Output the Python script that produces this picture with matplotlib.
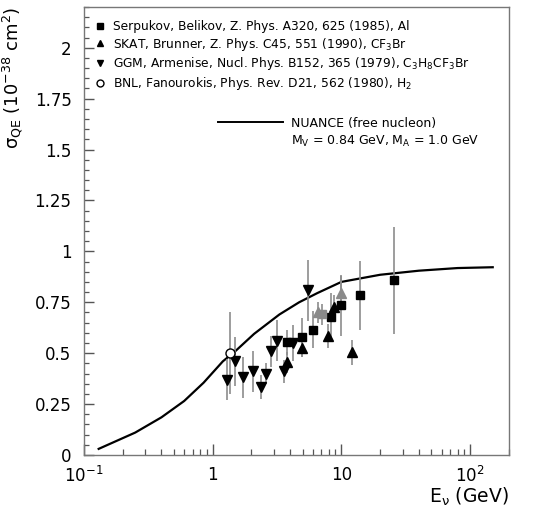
import numpy as np
import matplotlib.pyplot as plt
from matplotlib.lines import Line2D
from matplotlib.ticker import MultipleLocator, FormatStrFormatter, FixedFormatter, FixedLocator, NullFormatter

plt.rcParams['font.family'] = 'DejaVu Sans'
plt.rcParams['mathtext.default'] = 'regular'

# NUANCE free-nucleon prediction
nuance_E = [0.13, 0.25, 0.4, 0.6, 0.85, 1.2, 1.5, 2.1, 3.3, 4.7, 6.5, 10, 20, 40, 80, 150]
nuance_sigma = [0.03, 0.11, 0.185, 0.265, 0.355, 0.46, 0.51, 0.595, 0.69, 0.75,
                0.795, 0.85, 0.885, 0.905, 0.918, 0.922]

# Serpukov (Al)
serp_E = [3.8, 4.95, 6.05, 7.08, 8.3, 10.0, 14.0, 25.6]
serp_sigma = [0.553, 0.578, 0.616, 0.69, 0.676, 0.735, 0.785, 0.857]
serp_err = [0.063, 0.095, 0.09, 0.05, 0.12, 0.15, 0.17, 0.265]
serp_faint = [0, 0, 0, 1, 0, 0, 0, 0]

# SKAT (CF3Br)
skat_E = [3.77, 4.95, 6.55, 7.83, 8.83, 10.0, 12.2]
skat_sigma = [0.455, 0.525, 0.70, 0.583, 0.728, 0.797, 0.504]
skat_err = [0.05, 0.045, 0.05, 0.06, 0.06, 0.08, 0.06]
skat_faint = [0, 0, 1, 0, 0, 1, 0]

# GGM (C3H8CF3Br)
ggm_E = [1.29, 1.50, 1.72, 2.05, 2.39, 2.61, 2.82, 3.16, 3.61, 4.2, 5.55]
ggm_sigma = [0.369, 0.46, 0.381, 0.41, 0.333, 0.40, 0.509, 0.562, 0.41, 0.55, 0.808]
ggm_err = [0.1, 0.12, 0.1, 0.1, 0.06, 0.05, 0.075, 0.1, 0.057, 0.09, 0.15]
ggm_faint = [0] * 11

# BNL (H2)
bnl_E = [1.37]
bnl_sigma = [0.50]
bnl_err = [0.2]

fig = plt.figure(figsize=(5.33, 5.07), dpi=100)
ax = fig.add_axes([0.1576, 0.1026, 0.797, 0.8836])

ax.plot(nuance_E, nuance_sigma, color='black', lw=1.6, zorder=3)


def draw_set(E, sig, err, faint, marker, ms, mfc='black'):
    E, sig, err, faint = map(np.asarray, (E, sig, err, faint))
    for flag in (0, 1):
        sel = faint == flag
        if not sel.any():
            continue
        col = '#8a8a8a' if flag else 'black'
        ax.errorbar(E[sel], sig[sel], yerr=err[sel], fmt=marker, ms=ms,
                    mfc=col if mfc == 'black' else mfc, mec=col,
                    ecolor='#8c8c8c', elinewidth=1.2, capsize=0, zorder=4)


draw_set(serp_E, serp_sigma, serp_err, serp_faint, 's', 6)
draw_set(skat_E, skat_sigma, skat_err, skat_faint, '^', 6.5)
draw_set(ggm_E, ggm_sigma, ggm_err, ggm_faint, 'v', 6.5)
draw_set(bnl_E, bnl_sigma, bnl_err, [0], 'o', 6.5, mfc='white')

ax.set_xscale('log')
ax.set_xlim(0.1, 200)
ax.set_ylim(0, 2.2)

decades = [0.1, 1, 10, 100]
ax.xaxis.set_major_locator(FixedLocator(decades))
ax.xaxis.set_major_formatter(FixedFormatter(['$10^{-1}$', '1', '10', '$10^{2}$']))
ax.xaxis.set_minor_locator(FixedLocator([d * k for d in decades for k in range(2, 10)]))
ax.xaxis.set_minor_formatter(NullFormatter())
ax.yaxis.set_major_locator(MultipleLocator(0.25))
ax.yaxis.set_minor_locator(MultipleLocator(0.05))
ax.yaxis.set_major_formatter(FormatStrFormatter('%g'))

ax.tick_params(which='both', direction='in', top=False, right=False,
               colors='#555555', labelcolor='black', labelsize=12)
ax.tick_params(axis='y', which='major', length=7, width=1, pad=9)
ax.tick_params(axis='y', which='minor', length=3.5, width=0.9)
ax.tick_params(axis='x', which='major', length=8, width=1, pad=8)
ax.tick_params(axis='x', which='minor', length=4.5, width=0.9)
for s in ax.spines.values():
    s.set_color('#777777')
    s.set_linewidth(1)

ax.set_ylabel(r'$\sigma_{QE}$ (10$^{-38}$ cm$^{2}$)', loc='top', fontsize=13, labelpad=7)
ax.set_xlabel(r'E$_{\nu}$ (GeV)', loc='right', fontsize=13.5, labelpad=0)

handles = [
    Line2D([], [], ls='none', marker='s', color='black', ms=5),
    Line2D([], [], ls='none', marker='^', color='black', ms=5),
    Line2D([], [], ls='none', marker='v', color='black', ms=5),
    Line2D([], [], ls='none', marker='o', mfc='white', mec='black', ms=5),
]
labels = [
    'Serpukov, Belikov, Z. Phys. A320, 625 (1985), Al',
    'SKAT, Brunner, Z. Phys. C45, 551 (1990), CF$_3$Br',
    'GGM, Armenise, Nucl. Phys. B152, 365 (1979), C$_3$H$_8$CF$_3$Br',
    'BNL, Fanourokis, Phys. Rev. D21, 562 (1980), H$_2$',
]
leg1 = ax.legend(handles, labels, loc='upper left', bbox_to_anchor=(0.005, 0.99),
                 frameon=False, fontsize=8.8, handlelength=0.8, handletextpad=0.7,
                 labelspacing=0.22, borderaxespad=0.3)
ax.add_artist(leg1)

line_handles = [Line2D([], [], color='black', lw=1.4), Line2D([], [], ls='none')]
line_labels = ['NUANCE (free nucleon)', 'M$_V$ = 0.84 GeV, M$_A$ = 1.0 GeV']
ax.legend(line_handles, line_labels, loc='upper left', bbox_to_anchor=(0.29, 0.78),
          frameon=False, fontsize=9, handlelength=5.2, handletextpad=0.6,
          labelspacing=0.3)

fig.savefig('out.png', dpi=100)
